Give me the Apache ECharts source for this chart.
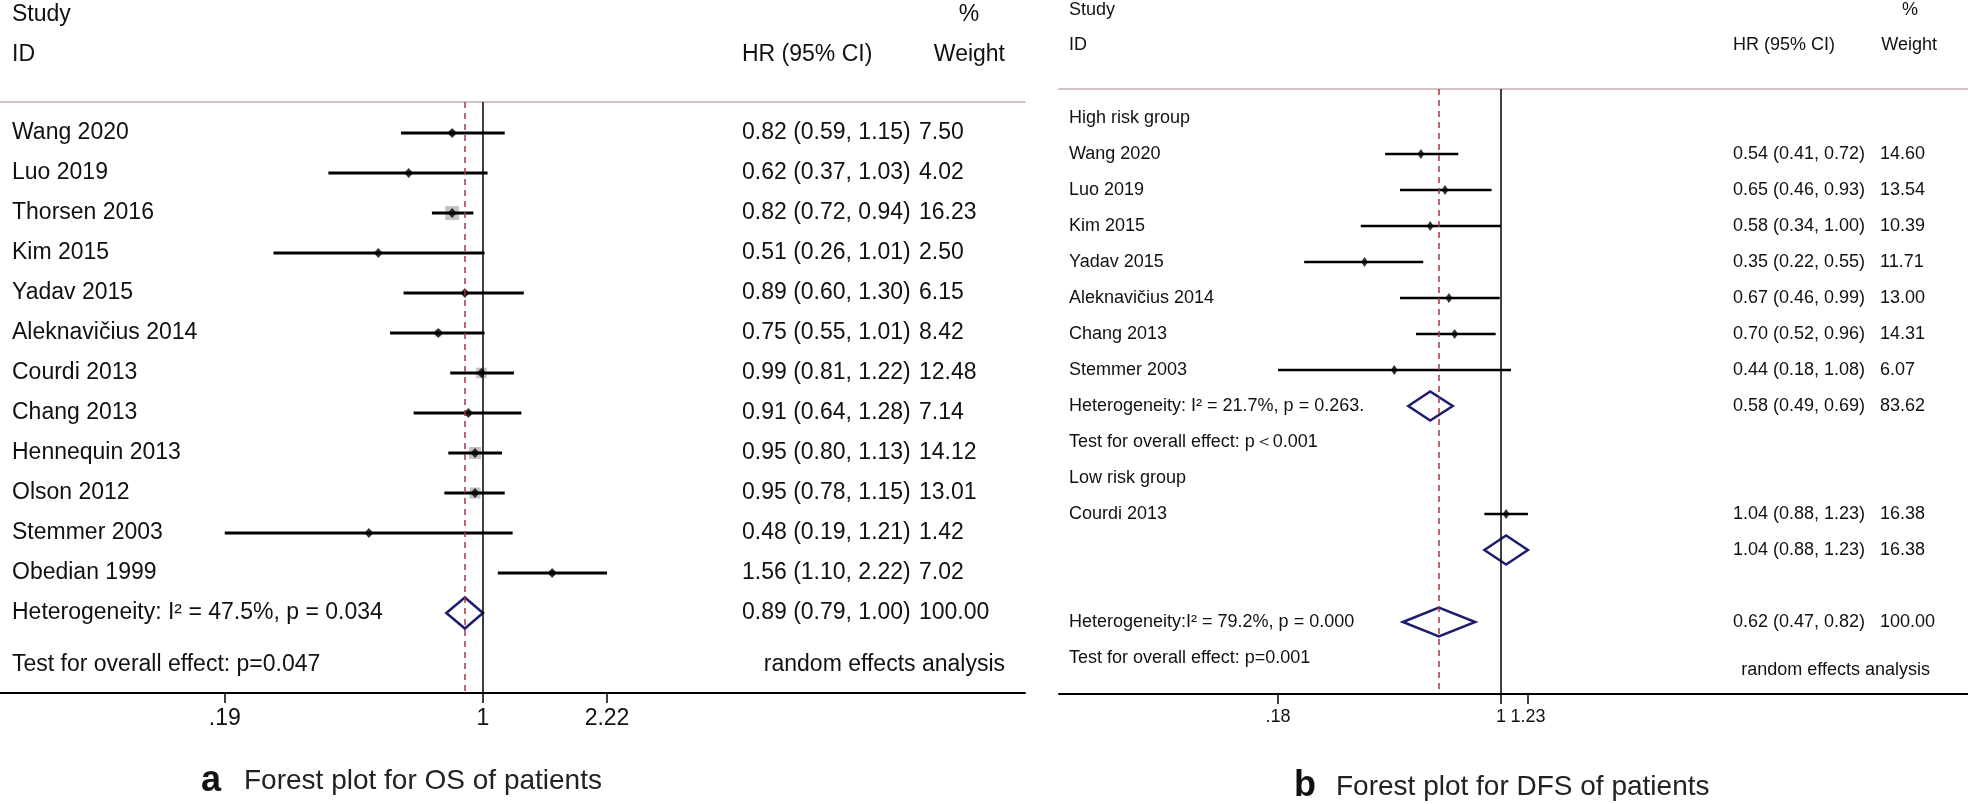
<!DOCTYPE html>
<html><head><meta charset="utf-8">
<script src="https://cdn.jsdelivr.net/npm/echarts@6/dist/echarts.min.js"></script>
<style>html,body{margin:0;padding:0;background:#fff}#c{width:1968px;height:804px}</style>
</head><body><div id="c"></div>
<script>
// ---------------- Data: panel a (OS) ----------------
const osStudies = ['Wang 2020','Luo 2019','Thorsen 2016','Kim 2015','Yadav 2015','Aleknavičius 2014','Courdi 2013','Chang 2013','Hennequin 2013','Olson 2012','Stemmer 2003','Obedian 1999'];
const osHR     = [0.82,0.62,0.82,0.51,0.89,0.75,0.99,0.91,0.95,0.95,0.48,1.56];
const osLow    = [0.59,0.37,0.72,0.26,0.60,0.55,0.81,0.64,0.80,0.78,0.19,1.10];
const osHigh   = [1.15,1.03,0.94,1.01,1.30,1.01,1.22,1.28,1.13,1.15,1.21,2.22];
const osWeight = [7.50,4.02,16.23,2.50,6.15,8.42,12.48,7.14,14.12,13.01,1.42,7.02];
const osPooled = [0.89,0.79,1.00];          // HR, low, high
const osPooledWeight = 100.00;
const osHeterogeneity = 'Heterogeneity: I² = 47.5%, p = 0.034';
const osOverallTest = 'Test for overall effect: p=0.047';
const osTicks = [0.19,1,2.22];
const osTickLabels = ['.19','1','2.22'];

// ---------------- Data: panel b (DFS) ----------------
const dfsHighStudies = ['Wang 2020','Luo 2019','Kim 2015','Yadav 2015','Aleknavičius 2014','Chang 2013','Stemmer 2003'];
const dfsHighHR     = [0.54,0.65,0.58,0.35,0.67,0.70,0.44];
const dfsHighLow    = [0.41,0.46,0.34,0.22,0.46,0.52,0.18];
const dfsHighHigh   = [0.72,0.93,1.00,0.55,0.99,0.96,1.08];
const dfsHighWeight = [14.60,13.54,10.39,11.71,13.00,14.31,6.07];
const dfsHighPooled = [0.58,0.49,0.69];
const dfsHighPooledWeight = 83.62;
const dfsHighHeterogeneity = 'Heterogeneity: I² = 21.7%, p = 0.263.';
const dfsHighTest = 'Test for overall effect: p＜0.001';
const dfsLowStudies = ['Courdi 2013'];
const dfsLowHR     = [1.04];
const dfsLowLow    = [0.88];
const dfsLowHigh   = [1.23];
const dfsLowWeight = [16.38];
const dfsLowPooled = [1.04,0.88,1.23];
const dfsLowPooledWeight = 16.38;
const dfsOverall = [0.62,0.47,0.82];
const dfsOverallWeight = 100.00;
const dfsOverallHeterogeneity = 'Heterogeneity:I² = 79.2%, p = 0.000';
const dfsOverallTest = 'Test for overall effect: p=0.001';
const dfsTicks = [0.18,1,1.23];
const dfsTickLabels = ['.18','1','1.23'];

// ---------------- Layout ----------------
const FONT = "'Liberation Sans', Arial, sans-serif";
const A = {left:0, top:102, width:1025, bottom:693, row0:133, rowH:40, xOne:483, pxPerLn:155.5,
  cols:{label:12, hr:742, w:919, right:1005, pctC:969, wR:1005}, font:23, ci:3, pt:[9,10], box:0.85, dia:31};
const B = {left:1059, top:89, width:909, bottom:694, row0:118, rowH:36, xOne:1501, pxPerLn:130,
  cols:{label:1069, hr:1733, w:1880, right:1930, pctC:1910, wR:1937}, font:18, ci:2.5, pt:[7,10], box:0, dia:29};

const fmt = v => v.toFixed(2);
const ciText = (h,l,u) => fmt(h)+' ('+fmt(l)+', '+fmt(u)+')';
const rowOfY = (L,y) => (y - L.row0)/L.rowH;

// ---------------- Rows ----------------
const aRows = [];
osStudies.forEach((s,i)=>aRows.push({kind:'study',row:i,label:s,hr:osHR[i],lo:osLow[i],hi:osHigh[i],w:osWeight[i]}));
aRows.push({kind:'pooled',row:osStudies.length,label:osHeterogeneity,hr:osPooled[0],lo:osPooled[1],hi:osPooled[2],w:osPooledWeight});
const aTexts = [
  {row:rowOfY(A,15), col:'label', text:'Study'},
  {row:rowOfY(A,55), col:'label', text:'ID'},
  {row:rowOfY(A,55), col:'hr', text:'HR (95% CI)'},
  {row:rowOfY(A,15), col:'pctC', text:'%', align:'center'},
  {row:rowOfY(A,55), col:'wR', text:'Weight', align:'right'},
  {row:rowOfY(A,665), col:'label', text:osOverallTest},
  {row:rowOfY(A,665), col:'right', text:'random effects analysis', align:'right'}
];

const bRows = [];
let r = 0;
const bTexts = [
  {row:rowOfY(B,10), col:'label', text:'Study'},
  {row:rowOfY(B,45), col:'label', text:'ID'},
  {row:rowOfY(B,45), col:'hr', text:'HR (95% CI)'},
  {row:rowOfY(B,10), col:'pctC', text:'%', align:'center'},
  {row:rowOfY(B,45), col:'wR', text:'Weight', align:'right'}
];
bTexts.push({row:r++, col:'label', text:'High risk group'});
dfsHighStudies.forEach((s,i)=>bRows.push({kind:'study',row:r++,label:s,hr:dfsHighHR[i],lo:dfsHighLow[i],hi:dfsHighHigh[i],w:dfsHighWeight[i]}));
bRows.push({kind:'pooled',row:r++,label:dfsHighHeterogeneity,hr:dfsHighPooled[0],lo:dfsHighPooled[1],hi:dfsHighPooled[2],w:dfsHighPooledWeight});
bTexts.push({row:r++, col:'label', text:dfsHighTest});
bTexts.push({row:r++, col:'label', text:'Low risk group'});
dfsLowStudies.forEach((s,i)=>bRows.push({kind:'study',row:r++,label:s,hr:dfsLowHR[i],lo:dfsLowLow[i],hi:dfsLowHigh[i],w:dfsLowWeight[i]}));
bRows.push({kind:'pooled',row:r++,label:'',hr:dfsLowPooled[0],lo:dfsLowPooled[1],hi:dfsLowPooled[2],w:dfsLowPooledWeight});
r++;
bRows.push({kind:'pooled',row:r++,label:dfsOverallHeterogeneity,hr:dfsOverall[0],lo:dfsOverall[1],hi:dfsOverall[2],w:dfsOverallWeight});
bTexts.push({row:r, col:'label', text:dfsOverallTest});
bTexts.push({row:rowOfY(B,670), col:'right', text:'random effects analysis', align:'right'});

function rowsToTexts(rows, texts){
  rows.forEach(o=>{
    if (o.label) texts.push({row:o.row, col:'label', text:o.label});
    texts.push({row:o.row, col:'hr', text:ciText(o.hr,o.lo,o.hi)});
    texts.push({row:o.row, col:'w', text:fmt(o.w)});
  });
  return texts;
}
rowsToTexts(aRows, aTexts);
rowsToTexts(bRows, bTexts);

// ---------------- Builders ----------------
function panel(L, idx, rows, texts, ticks, tickLabels, overall){
  const xMin = (L.left - L.xOne)/L.pxPerLn, xMax = (L.left + L.width - L.xOne)/L.pxPerLn;
  const grid = {left:L.left, top:L.top, width:L.width, height:L.bottom - L.top, containLabel:false};
  const tickVals = ticks.map(Math.log);
  const xBottom = {type:'value', gridIndex:idx, position:'bottom', min:xMin, max:xMax,
    axisLine:{onZero:false, lineStyle:{color:'#000', width:2}},
    axisTick:{show:true, customValues:tickVals, length:10, lineStyle:{color:'#000', width:1.5}},
    axisLabel:{customValues:tickVals, margin:14, color:'#111', fontSize:L.font, fontFamily:FONT,
      formatter:v=>{for(let i=0;i<tickVals.length;i++){if(Math.abs(tickVals[i]-v)<1e-6) return tickLabels[i];} return '';}},
    splitLine:{show:false}};
  const xTop = {type:'value', gridIndex:idx, position:'top', min:xMin, max:xMax,
    axisLine:{onZero:false, lineStyle:{color:'#d5c2c5', width:2}},
    axisTick:{show:false}, axisLabel:{show:false}, splitLine:{show:false}};
  const yAx = {type:'value', gridIndex:idx, inverse:true, show:false,
    min:(L.top - L.row0)/L.rowH, max:(L.bottom - L.row0)/L.rowH,
    axisLine:{onZero:false}, splitLine:{show:false}};
  const xi = idx*2;
  const marks = {type:'custom', xAxisIndex:xi, yAxisIndex:idx, clip:false, z:2, silent:true,
    data: rows.map(o=>[Math.log(o.hr), o.row]),
    renderItem:(params, api)=>{
      const o = rows[params.dataIndex];
      const c = api.coord([Math.log(o.hr), o.row]);
      const pl = api.coord([Math.log(o.lo), o.row]);
      const ph = api.coord([Math.log(o.hi), o.row]);
      if (o.kind === 'study'){
        const ch = [];
        if (L.box){ const s = L.box*o.w; ch.push({type:'rect', shape:{x:c[0]-s/2, y:c[1]-s/2, width:s, height:s}, style:{fill:'#c2c2c2'}}); }
        ch.push({type:'line', shape:{x1:pl[0], y1:c[1], x2:ph[0], y2:c[1]}, style:{stroke:'#000', lineWidth:L.ci}});
        return {type:'group', children:ch};
      }
      const h = L.dia/2;
      return {type:'polygon', shape:{points:[[pl[0],c[1]],[c[0],c[1]-h],[ph[0],c[1]],[c[0],c[1]+h]]},
        style:{fill:'none', stroke:'#1d1d70', lineWidth:2.5}};
    }};
  const points = {type:'scatter', xAxisIndex:xi, yAxisIndex:idx, z:3, silent:true,
    symbol:'diamond', symbolSize:L.pt, itemStyle:{color:'#000'},
    data: rows.filter(o=>o.kind==='study').map(o=>[Math.log(o.hr), o.row]),
    markLine:{silent:true, symbol:'none', label:{show:false}, animation:false,
      data:[
        {xAxis:0, lineStyle:{color:'#000', width:1.5, type:'solid'}},
        {xAxis:Math.log(overall), lineStyle:{color:'#a8343f', width:1.5, type:[6,5]}}
      ]}};
  const textSeries = {type:'custom', xAxisIndex:xi, yAxisIndex:idx, clip:false, z:4, silent:true,
    data: texts.map(t=>[0, t.row]),
    renderItem:(params, api)=>{
      const t = texts[params.dataIndex];
      const y = api.coord([0, t.row])[1];
      return {type:'text', x:L.cols[t.col], y:y,
        style:{text:t.text, fill:'#111', fontSize:L.font, fontFamily:FONT, align:t.align||'left', verticalAlign:'middle'}};
    }};
  return {grid, xAxes:[xBottom, xTop], yAxis:yAx, series:[marks, points, textSeries]};
}

const pa = panel(A, 0, aRows, aTexts, osTicks, osTickLabels, osPooled[0]);
const pb = panel(B, 1, bRows, bTexts, dfsTicks, dfsTickLabels, dfsOverall[0]);

const chart = echarts.init(document.getElementById('c'), null, {renderer:'canvas'});
chart.setOption({
  animation:false,
  backgroundColor:'#fff',
  grid:[pa.grid, pb.grid],
  xAxis:[...pa.xAxes, ...pb.xAxes],
  yAxis:[pa.yAxis, pb.yAxis],
  series:[...pa.series, ...pb.series],
  graphic:[
    {type:'text', x:201, y:781, style:{text:'a', fontSize:36, fontWeight:'bold', fontFamily:FONT, fill:'#111', verticalAlign:'middle'}},
    {type:'text', x:244, y:781, style:{text:'Forest plot for OS of patients', fontSize:28, fontFamily:FONT, fill:'#222', verticalAlign:'middle'}},
    {type:'text', x:1294, y:786, style:{text:'b', fontSize:36, fontWeight:'bold', fontFamily:FONT, fill:'#111', verticalAlign:'middle'}},
    {type:'text', x:1336, y:787, style:{text:'Forest plot for DFS of patients', fontSize:28, fontFamily:FONT, fill:'#222', verticalAlign:'middle'}}
  ]
});
</script></body></html>
